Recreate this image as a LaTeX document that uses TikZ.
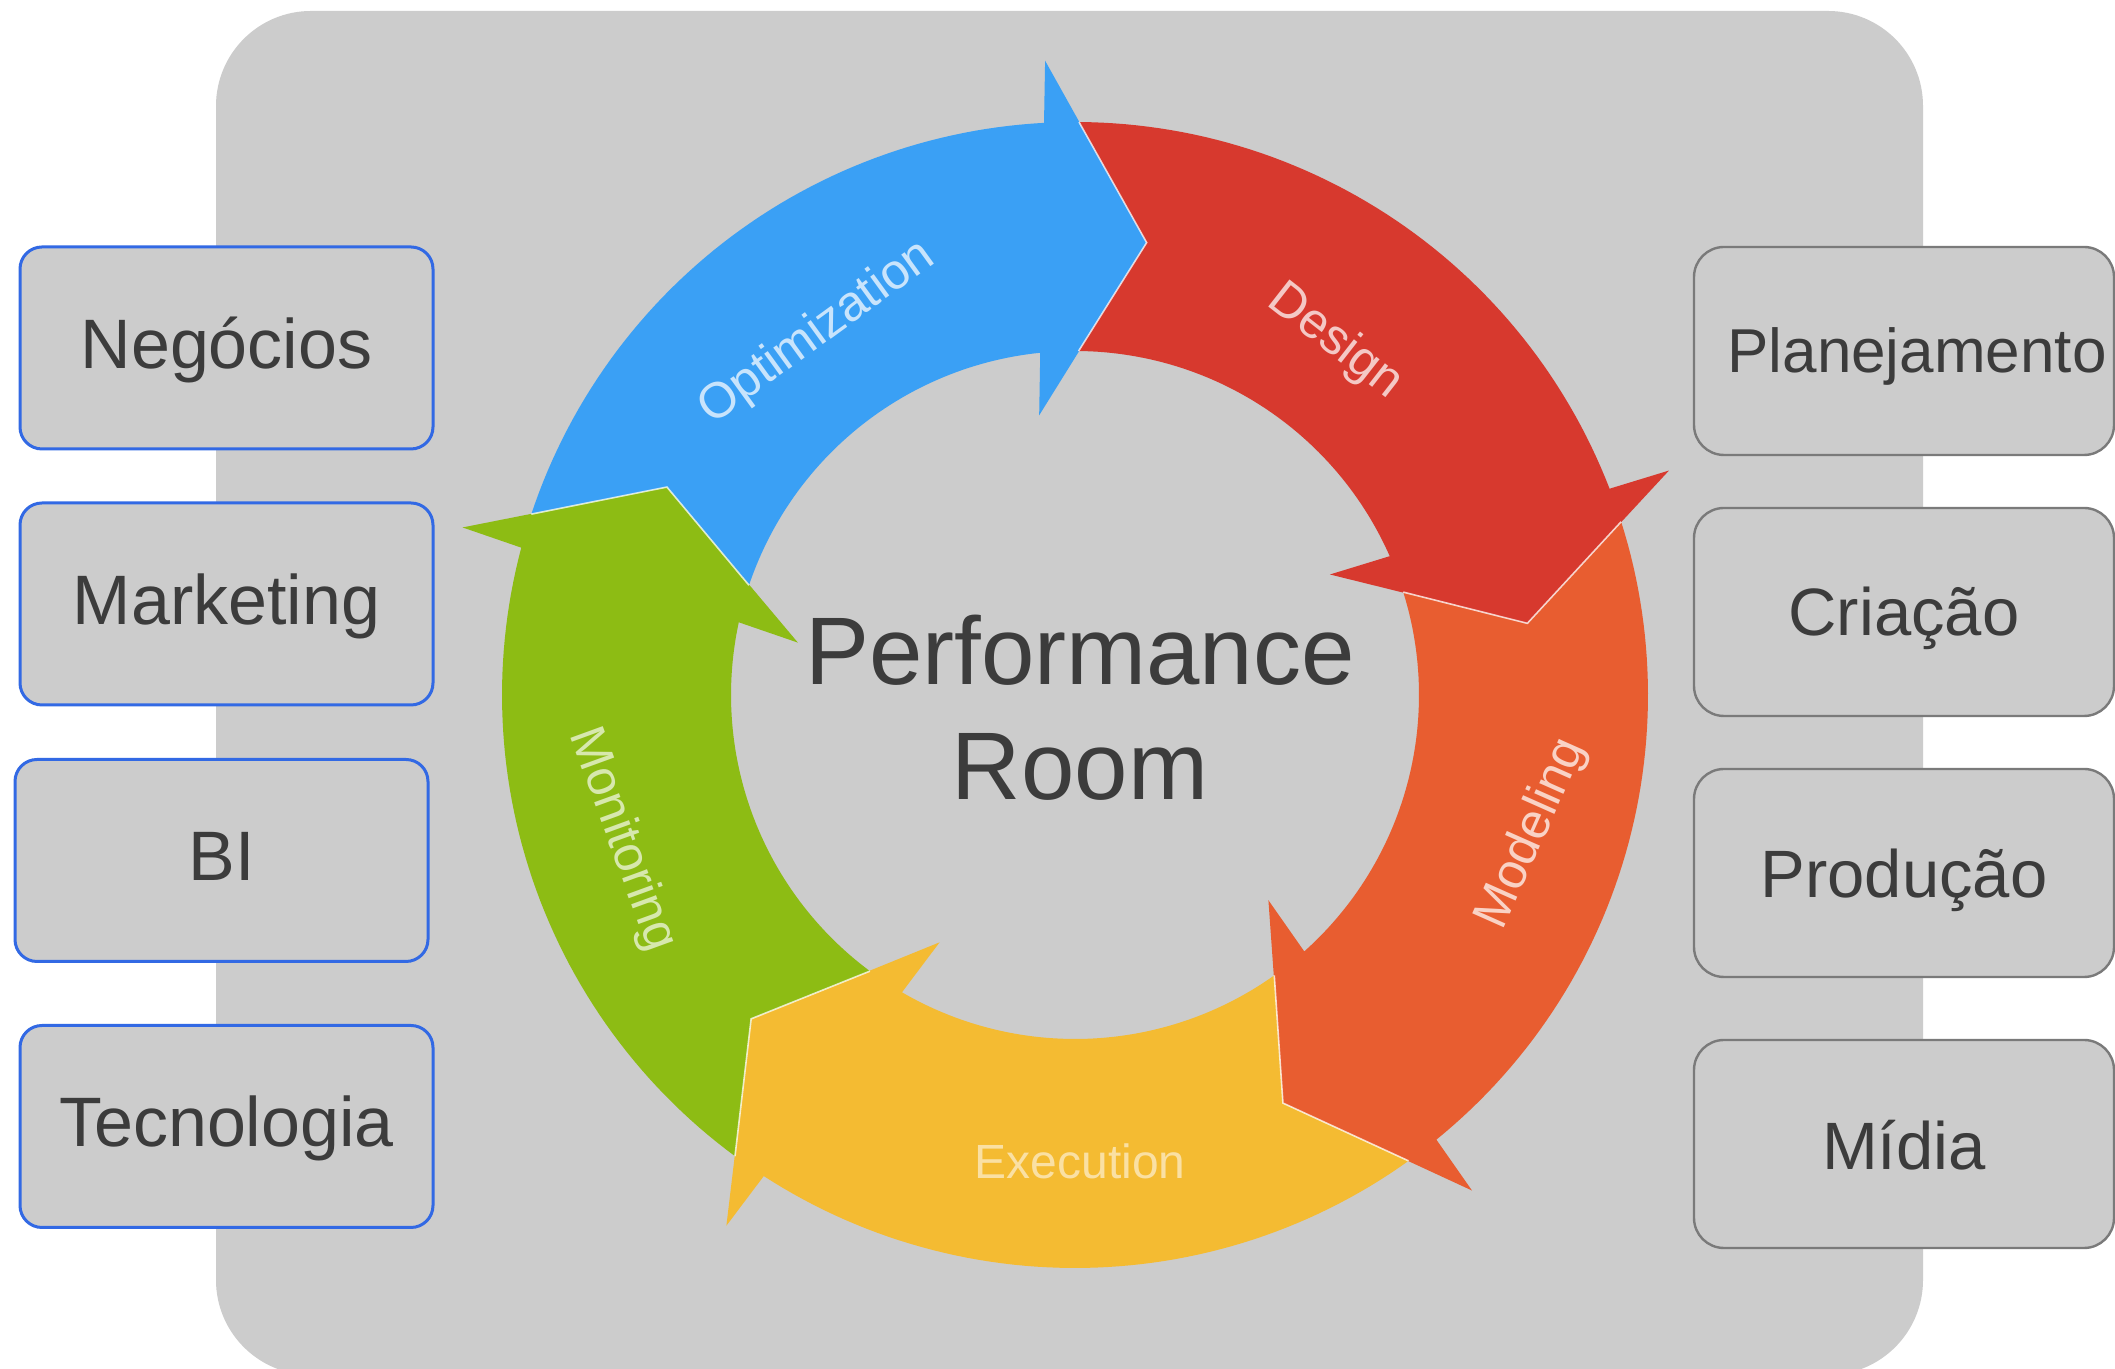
\documentclass[tikz,border=0pt]{standalone}
\usepackage{fontspec}
\setmainfont{Liberation Sans}
\definecolor{cblue}{RGB}{58,160,245}
\definecolor{cred}{RGB}{215,57,46}
\definecolor{corange}{RGB}{232,93,48}
\definecolor{cyellow}{RGB}{244,187,50}
\definecolor{cgreen}{RGB}{141,188,20}
\definecolor{bggray}{RGB}{204,204,204}
\definecolor{txtgray}{RGB}{60,60,60}
\definecolor{lblue}{RGB}{50,105,228}
\definecolor{rgray}{RGB}{122,122,122}
\tikzset{
  lbox/.style={draw=lblue, line width=1.5pt, fill=bggray, rounded corners=11pt,
    minimum width=206.5pt, minimum height=101pt, inner sep=0pt},
  rbox/.style={draw=rgray, line width=1.2pt, fill=bggray, rounded corners=15pt,
    minimum width=210pt, minimum height=104pt, inner sep=0pt},
  ltxt/.style={text=txtgray, font=\fontsize{35}{40}\selectfont, anchor=base, inner sep=0pt},
  rtxt/.style={text=txtgray, font=\fontsize{33.5}{40}\selectfont, anchor=base, inner sep=0pt},
  ctxt/.style={text=txtgray, font=\fontsize{48}{56}\selectfont, anchor=base, inner sep=0pt},
  arrlbl/.style={font=\fontsize{25}{30}\selectfont, inner sep=0pt},
  seam/.style={draw=white, line width=0.8pt, opacity=0.75},
}
\newcommand\ringarrow[2]{%
  \pgfmathsetmacro\raA{#1+80.6}\pgfmathsetmacro\raB{#1+12.1}%
  \pgfmathsetmacro\raC{#1+14.8}\pgfmathsetmacro\raD{#1+80.4}%
  \fill[#2] plot[domain=\raA:\raB,samples=60] ({\x}:573) -- (#1+11.7:635) -- (#1:458)
    -- (#1+16.3:282) -- plot[domain=\raC:\raD,samples=60] ({\x}:344) -- (#1+72:458) -- cycle;
}
\newcommand\ringseam[1]{%
  \draw[seam] (#1+8.6:573) -- (#1:458) -- (#1+8.4:344);
}
\begin{document}
\begin{tikzpicture}[x=0.5pt,y=0.5pt]
\useasboundingbox (0,0) rectangle (2115,1369);
\fill[white] (0,0) rectangle (2115,1369);
\begin{scope}
  \clip (0,0) rectangle (2115,1369);
  \fill[bggray, rounded corners=47.5pt] (216,-6) rectangle (1923,1358);
\end{scope}

% ring of arrows
\begin{scope}[shift={(1075,674)}]
  \ringarrow{81}{cblue}
  \ringarrow{9}{cred}
  \ringarrow{-63}{corange}
  \ringarrow{-135}{cyellow}
  \ringarrow{153}{cgreen}
  \ringseam{81}
  \ringseam{9}
  \ringseam{-63}
  \ringseam{-135}
  \ringseam{153}
\end{scope}

% arrow labels
\node[arrlbl, text=white!72!cblue, rotate=36] (lopt) at (817,1036) {Optimization};
\node[arrlbl, text=white!72!cred, rotate=-38] (ldes) at (1335,1027) {Design};
\node[arrlbl, text=white!72!corange, rotate=66] (lmod) at (1532,535) {Modeling};
\node[arrlbl, text=white!55!cyellow, font=\fontsize{24}{30}\selectfont] (lexe) at (1080,208) {Execution};
\node[arrlbl, text=white!65!cgreen, rotate=-70] (lmon) at (622,529) {Monitoring};

% centre title
\node[ctxt] (perf) at (1080,684) {Performance};
\node[ctxt] (room) at (1080,569) {Room};

% left boxes
\node[lbox] (bneg) at (226.5,1021) {};
\node[lbox] (bmkt) at (226.5,765) {};
\node[lbox] (bbi)  at (221.5,508.5) {};
\node[lbox] (btec) at (226.5,242.5) {};
\node[ltxt] (tneg) at (226.5,1000) {Negócios};
\node[ltxt] (tmkt) at (226.5,744) {Marketing};
\node[ltxt] (tbi)  at (221.5,488) {BI};
\node[ltxt] (ttec) at (226.5,222) {Tecnologia};

% right boxes
\node[rbox] (bpla) at (1904,1018) {};
\node[rbox] (bcri) at (1904,757) {};
\node[rbox] (bpro) at (1904,496) {};
\node[rbox] (bmid) at (1904,225) {};
\node[rtxt, font=\fontsize{31}{38}\selectfont] (tpla) at (1917,996) {Planejamento};
\node[rtxt] (tcri) at (1904,733) {Criação};
\node[rtxt] (tpro) at (1904,471) {Produção};
\node[rtxt] (tmid) at (1904,199) {Mídia};
\end{tikzpicture}
\end{document}
